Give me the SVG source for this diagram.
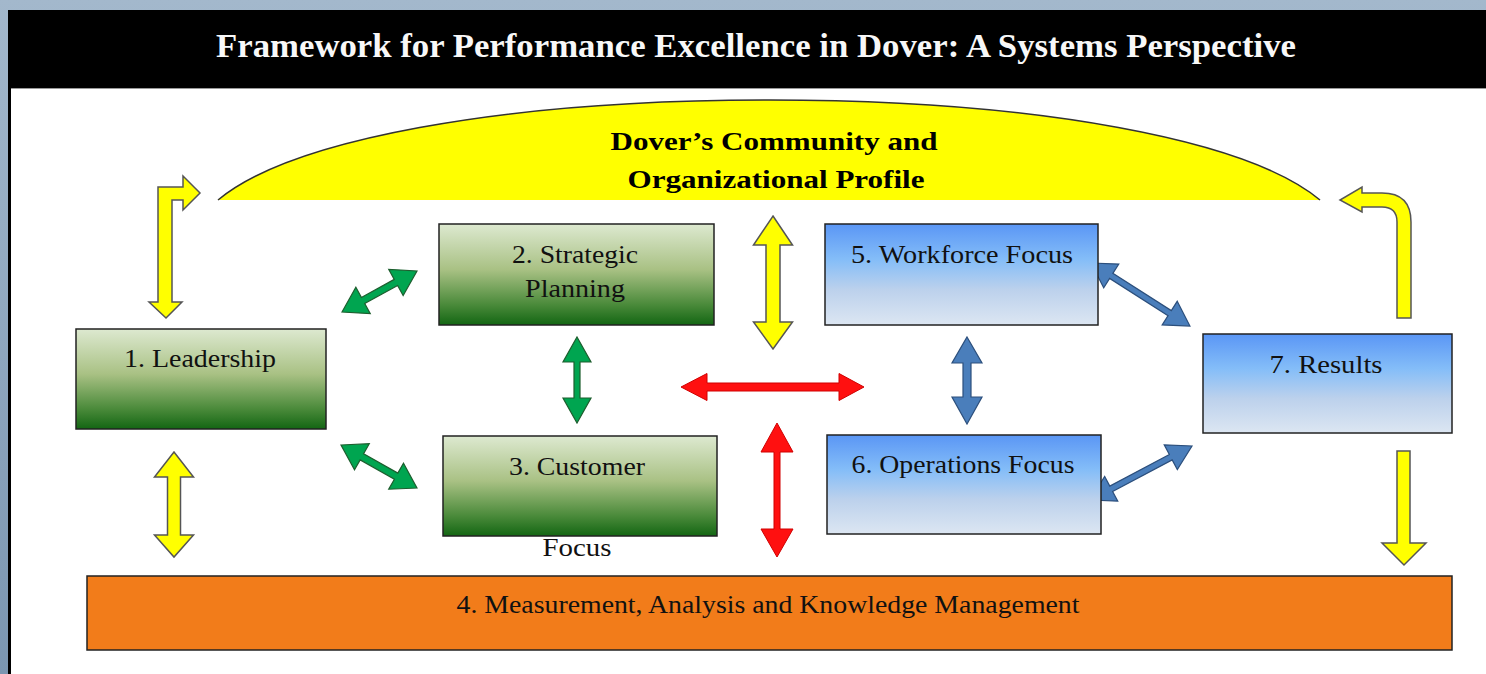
<svg xmlns="http://www.w3.org/2000/svg" width="1486" height="674" viewBox="0 0 1486 674">
<defs>
<linearGradient id="gGreen" x1="0" y1="0" x2="0" y2="1">
<stop offset="0" stop-color="#dde9d0"/>
<stop offset="0.45" stop-color="#a9c184"/>
<stop offset="0.8" stop-color="#4a8a3a"/>
<stop offset="1" stop-color="#136613"/>
</linearGradient>
<linearGradient id="gBlue" x1="0" y1="0" x2="0" y2="1">
<stop offset="0" stop-color="#5a96f5"/>
<stop offset="0.35" stop-color="#84bdf8"/>
<stop offset="0.65" stop-color="#bcd1ec"/>
<stop offset="1" stop-color="#dce6f2"/>
</linearGradient>
<linearGradient id="gSide" x1="0" y1="0" x2="0" y2="1">
<stop offset="0" stop-color="#a3b8cc"/>
<stop offset="1" stop-color="#7b96b1"/>
</linearGradient>
<style>
.box{stroke:#222;stroke-width:1.5}
.green{fill:url(#gGreen)}
.blue{fill:url(#gBlue)}
.lbl{font-family:"Liberation Serif","Times New Roman",serif;font-size:26px;fill:#111;text-anchor:middle}
.yel{fill:#ffff00;stroke:#555;stroke-width:1.5;stroke-linejoin:miter}
.grn{fill:#00a550;stroke:#1d5e2e;stroke-width:1.2}
.blu{fill:#4a7ebb;stroke:#2c4f7c;stroke-width:1.2}
.red{fill:#ff1010;stroke:#d00000;stroke-width:1}
</style>
</defs>
<rect x="0" y="0" width="1486" height="674" fill="url(#gSide)"/>
<rect x="8" y="10" width="1478" height="664" fill="#000"/>
<rect x="11" y="89" width="1475" height="585" fill="#fff"/>
<line x1="11" y1="88.5" x2="1486" y2="88.5" stroke="#999" stroke-width="1"/>
<text x="756" y="57" font-family="'Liberation Serif','Times New Roman',serif" font-size="33" font-weight="bold" fill="#f8f8f8" text-anchor="middle" textLength="1080" lengthAdjust="spacingAndGlyphs">Framework for Performance Excellence in Dover: A Systems Perspective</text>

<g id="profile">
<path d="M218,200 C290,140 500,100 769,100 C1038,100 1248,140 1320,200 Z" fill="#ffff00"/>
<path d="M218,200 C290,140 500,100 769,100 C1038,100 1248,140 1320,200" fill="none" stroke="#333" stroke-width="1.5"/>
<text x="774" y="150" font-family="'Liberation Serif','Times New Roman',serif" font-size="26" font-weight="bold" fill="#000" text-anchor="middle" textLength="327" lengthAdjust="spacingAndGlyphs">Dover’s Community and</text>
<text x="776" y="188" font-family="'Liberation Serif','Times New Roman',serif" font-size="26" font-weight="bold" fill="#000" text-anchor="middle" textLength="297" lengthAdjust="spacingAndGlyphs">Organizational Profile</text>
</g>

<g id="connectors">
<path class="yel" d="M166,318 L182,302 L172,302 L172,200 L183,200 L183,210 L200,193 L183,176 L183,187 L158,187 L158,302 L149,302 Z"/>
<path class="yel" d="M1397,318 L1411,318 L1411,222 Q1411,193 1382,193 L1362,193 L1362,187 L1340,200 L1362,212 L1362,207 L1382,207 Q1397,207 1397,222 Z"/>
<path class="yel" d="M1397,451 L1410,451 L1410,543 L1426,543 L1404,565 L1382,543 L1397,543 Z"/>
<path class="yel" d="M174,452 L193.5,477 L180.5,477 L180.5,535 L193.5,535 L174,557 L154.5,535 L167.5,535 L167.5,477 L154.5,477 Z"/>
<path class="yel" d="M773,216 L792.5,245 L780,245 L780,322 L792.5,322 L773,349 L753.5,322 L766,322 L766,245 L753.5,245 Z"/>
<path class="red" d="M681,387 L707,373.5 L707,383 L839,383 L839,373.5 L864,387 L839,400.5 L839,391 L707,391 L707,400.5 Z"/>
<path class="red" d="M777,423 L793,452 L780,452 L780,529 L793,529 L777,557 L761,529 L774,529 L774,452 L761,452 Z"/>
<path class="blu" d="M967,337 L982,363 L971,363 L971,397 L982,397 L967,424 L952,397 L963,397 L963,363 L952,363 Z"/>
<path class="grn" d="M577,337 L591,362 L580,362 L580,398 L591,398 L577,423 L563,398 L574,398 L574,362 L563,362 Z"/>
<path class="grn" transform="translate(342,312) rotate(-28.7)" d="M0,0 L24,-15 L24,-3.5 L61.5,-3.5 L61.5,-15 L85.5,0 L61.5,15 L61.5,3.5 L24,3.5 L24,15 Z"/>
<path class="grn" transform="translate(341,445) rotate(29.5)" d="M0,0 L24,-15 L24,-3.5 L63.3,-3.5 L63.3,-15 L87.3,0 L63.3,15 L63.3,3.5 L24,3.5 L24,15 Z"/>
<path class="blu" transform="translate(1091,263) rotate(32.5)" d="M0,0 L24,-14 L24,-3 L93.3,-3 L93.3,-14 L117.3,0 L93.3,14 L93.3,3 L24,3 L24,14 Z"/>
<path class="blu" transform="translate(1090,500) rotate(-27.9)" d="M0,0 L24,-14 L24,-3 L91.4,-3 L91.4,-14 L115.4,0 L91.4,14 L91.4,3 L24,3 L24,14 Z"/>
</g>

<g id="n1">
<rect class="box green" x="76" y="329" width="250" height="100"/>
<text class="lbl" x="200" y="367" textLength="152" lengthAdjust="spacingAndGlyphs">1. Leadership</text>
</g>
<g id="n2">
<rect class="box green" x="439" y="224" width="275" height="101"/>
<text class="lbl" x="575" y="263" textLength="126" lengthAdjust="spacingAndGlyphs">2. Strategic</text>
<text class="lbl" x="575" y="297" textLength="100" lengthAdjust="spacingAndGlyphs">Planning</text>
</g>
<g id="n3">
<rect class="box green" x="443" y="436" width="274" height="100"/>
<text class="lbl" x="577" y="475" textLength="136" lengthAdjust="spacingAndGlyphs">3. Customer</text>
<text class="lbl" x="577" y="556" textLength="69" lengthAdjust="spacingAndGlyphs">Focus</text>
</g>
<g id="n4">
<rect class="box" x="87" y="576" width="1365" height="74" fill="#f27c1a"/>
<text class="lbl" x="768" y="613" textLength="623" lengthAdjust="spacingAndGlyphs">4. Measurement, Analysis and Knowledge Management</text>
</g>
<g id="n5">
<rect class="box blue" x="825" y="224" width="273" height="101"/>
<text class="lbl" x="962" y="263" textLength="222" lengthAdjust="spacingAndGlyphs">5. Workforce Focus</text>
</g>
<g id="n6">
<rect class="box blue" x="827" y="435" width="274" height="99"/>
<text class="lbl" x="963" y="473" textLength="223" lengthAdjust="spacingAndGlyphs">6. Operations Focus</text>
</g>
<g id="n7">
<rect class="box blue" x="1203" y="334" width="249" height="99"/>
<text class="lbl" x="1326" y="373" textLength="113" lengthAdjust="spacingAndGlyphs">7. Results</text>
</g>
</svg>
